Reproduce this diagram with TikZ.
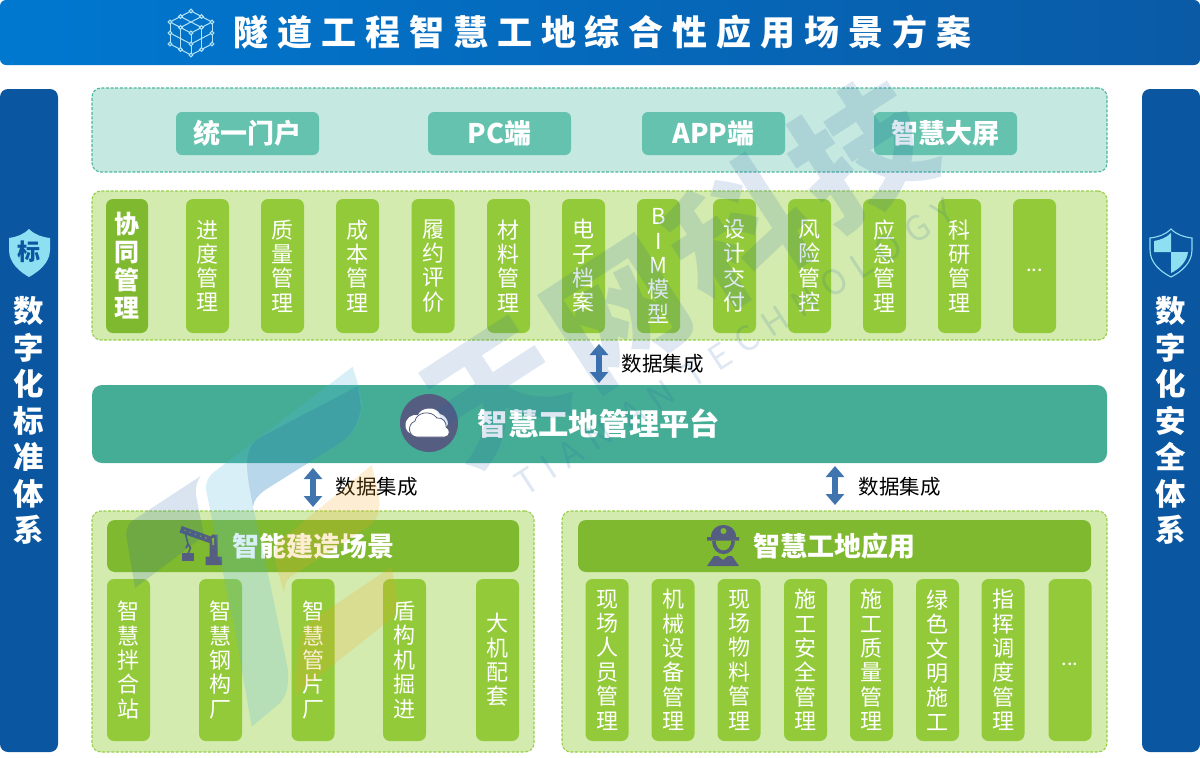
\documentclass[tikz,border=0pt]{standalone}
\usepackage{fontspec}
\setmainfont{Noto Sans CJK SC}
\usetikzlibrary{arrows.meta,calc}
\definecolor{titleL}{HTML}{0078D0}
\definecolor{titleR}{HTML}{0A5AA6}
\definecolor{navy}{HTML}{0A56A0}
\definecolor{portalbg}{HTML}{C5E9E0}
\definecolor{portalln}{HTML}{4DB6A0}
\definecolor{portalbtn}{HTML}{64C2AE}
\definecolor{greenbg}{HTML}{D3EBAE}
\definecolor{greenln}{HTML}{98CE4A}
\definecolor{greendk}{HTML}{7FB92F}
\definecolor{greenit}{HTML}{93CA39}
\definecolor{teal}{HTML}{45AD96}
\definecolor{slate}{HTML}{555E80}
\definecolor{arrowblue}{HTML}{3F74AE}
\definecolor{skyic}{HTML}{8FDFF3}
\definecolor{cubeic}{HTML}{B4E2F6}
\definecolor{wmcol}{HTML}{1F5FA8}
\definecolor{leafc}{HTML}{4FB8DE}
\definecolor{leafo}{HTML}{F5A623}
\tikzset{
  x=1pt,y=-1pt,
  box/.style={rectangle,rounded corners=#1,inner sep=0pt,outer sep=0pt},
  box/.default=6pt,
  band/.style={box=9pt,dashed,dash pattern=on 3pt off 1.6pt,line width=1.1pt},
  portalband/.style={band,draw=portalln,fill=portalbg},
  greenband/.style={band,draw=greenln,fill=greenbg},
  portalitem/.style={box=6pt,fill=portalbtn,text=white,font=\fontsize{27}{30}\selectfont\bfseries,minimum width=143pt,minimum height=43pt},
  itemtall/.style={box=7pt,fill=greenit,text=white,align=center,font=\fontsize{22}{24.3}\selectfont,minimum width=43pt,minimum height=134pt},
  itemlow/.style={box=7pt,fill=greenit,text=white,align=center,font=\fontsize{22}{24.4}\selectfont,minimum width=43pt,minimum height=162pt},
  sidebar/.style={box=8pt,fill=navy,minimum width=58pt,minimum height=663pt},
  sidetext/.style={text=white,align=center,font=\fontsize{30.5}{36.5}\selectfont\bfseries,inner sep=0pt},
  header/.style={box=8pt,fill=greendk,minimum height=52pt},
  headtext/.style={text=white,font=\fontsize{27}{32}\selectfont\bfseries,inner sep=0pt},
  datatext/.style={text=black,font=\fontsize{20.5}{24}\selectfont,inner sep=0pt},
  dotstext/.style={text=white,font=\fontsize{20}{22}\selectfont,inner sep=0pt},
  dataarrow/.style={draw=arrowblue,line width=6pt,{Triangle[width=18pt,length=11pt]}-{Triangle[width=18pt,length=11pt]}},
  wmark/.style={text=wmcol,text opacity=.15,inner sep=0pt},
  leafblue/.style={fill=wmcol,fill opacity=.17,draw=none},
  leafcyan/.style={fill=leafc,fill opacity=.22,draw=none},
  leaforange/.style={fill=leafo,fill opacity=.2,draw=none},
}
\begin{document}
\begin{tikzpicture}
\useasboundingbox (0,0) rectangle (1200,758);
% title
\node[box=6pt,left color=titleL,right color=titleR,minimum width=1200pt,minimum height=65pt,anchor=north west] (titlebar) at (0,0) {};
\node[text=white,font=\fontsize{35}{38}\selectfont\bfseries\addfontfeatures{LetterSpace=25.5},inner sep=0pt] (title) at (602.5,32) {隧道工程智慧工地综合性应用场景方案};
% cube icon
\begin{scope}[cubeic,line width=1pt]
  \coordinate (ct) at (191,11); \coordinate (cc) at (191,33);
  \coordinate (cl) at (170,22); \coordinate (cr) at (212,22);
  \coordinate (cbl) at (170,44); \coordinate (cbr) at (212,44); \coordinate (cb) at (191,55);
  \foreach \a/\b in {ct/cl,ct/cr,cl/cc,cr/cc,cl/cbl,cr/cbr,cc/cb,cbl/cb,cbr/cb}{\draw (\a) -- (\b);}
  \draw ($(ct)!.5!(cl)$) -- ($(cc)!.5!(cr)$) ($(ct)!.5!(cr)$) -- ($(cc)!.5!(cl)$);
  \draw ($(cl)!.5!(cbl)$) -- ($(cc)!.5!(cb)$) -- ($(cr)!.5!(cbr)$);
  \draw ($(cl)!.5!(cc)$) -- ($(cbl)!.5!(cb)$) ($(cr)!.5!(cc)$) -- ($(cbr)!.5!(cb)$);
  \foreach \p in {ct,cc,cl,cr,cbl,cbr,cb}{\draw[fill=titleL] (\p) circle (1.8);}
  \foreach \a/\b in {ct/cl,ct/cr,cl/cc,cr/cc,cl/cbl,cr/cbr,cc/cb,cbl/cb,cbr/cb}{\draw[fill=titleL] ($(\a)!.5!(\b)$) circle (1.8);}
\end{scope}
% side bars
\node[sidebar,anchor=north west] (leftbar) at (0,89) {};
\node[sidebar,anchor=north west] (rightbar) at (1142,89) {};
\node[sidetext] (lefttext) at (29,420.5) {数\\字\\化\\标\\准\\体\\系};
\node[sidetext] (righttext) at (1171,420.5) {数\\字\\化\\安\\全\\体\\系};
% left shield
\fill[skyic] (29,229) .. controls (23,235) and (16,237) .. (9,238) -- (9,250) .. controls (9,263) and (20,272) .. (29,277) .. controls (38,272) and (50,263) .. (50,250) -- (50,238) .. controls (42,237) and (35,235) .. (29,229) -- cycle;
\node[text=navy,font=\fontsize{23}{26}\selectfont\bfseries,inner sep=0pt] (stdmark) at (29,252) {标};
% right shield
\draw[skyic,line width=1.1pt] (1171,229) .. controls (1165,235) and (1158,237) .. (1150,238) -- (1150,250) .. controls (1150,263) and (1161,272) .. (1171,277) .. controls (1181,272) and (1192,263) .. (1192,250) -- (1192,238) .. controls (1184,237) and (1177,235) .. (1171,229) -- cycle;
\fill[skyic] (1171,233) .. controls (1166,238) and (1160,240) .. (1154,241) -- (1154,252) -- (1171,252) -- cycle;
\fill[skyic] (1171,252) -- (1188,252) .. controls (1187,262) and (1179,269) .. (1171,273) -- cycle;
% portal band
\node[portalband,anchor=north west,minimum width=1015pt,minimum height=84pt] (portal) at (92,88) {};
\node[portalitem] (p1) at (247.5,133.5) {统一门户};
\node[portalitem] (p2) at (499.5,133.5) {PC端};
\node[portalitem] (p3) at (713.5,133.5) {APP端};
\node[portalitem] (p4) at (945.5,133.5) {智慧大屏};
% management band
\node[greenband,anchor=north west,minimum width=1015pt,minimum height=149pt] (mgmt) at (92,191) {};
\node[itemtall,fill=greendk,font=\fontsize{25}{28}\selectfont\bfseries,minimum width=42pt] (m0) at (127,266) {协\\同\\管\\理};
\foreach \cx/\t [count=\i] in {207.5/进\\度\\管\\理,282.5/质\\量\\管\\理,357.5/成\\本\\管\\理,433/履\\约\\评\\价,508.5/材\\料\\管\\理,583.5/电\\子\\档\\案,658.5/B\\I\\M\\模\\型,734.5/设\\计\\交\\付,809.5/风\\险\\管\\控,884.5/应\\急\\管\\理,959.5/科\\研\\管\\理}
  {\node[itemtall] (m\i) at (\cx,266) {\t};}
\node[itemtall] (m12) at (1034.5,266) {};
\node[dotstext] (m12t) at (1034.5,270) {...};
% platform
\node[box=10pt,fill=teal,anchor=north west,minimum width=1015pt,minimum height=78pt] (platform) at (92,385) {};
\node[circle,fill=slate,minimum size=58pt,inner sep=0pt] (cloudic) at (429,423) {};
\fill[white] (405.5,426) .. controls (405,418) and (412,414) .. (418,415) .. controls (421,407) and (436,406) .. (440,414) .. controls (445,415) and (448,420) .. (448,424) -- (440,436) -- (414,434) .. controls (408,434) and (406,430) .. (405.5,426) -- cycle;
\draw[slate,fill=white,line width=.8pt] (417,437) .. controls (409,437) and (406,425) .. (415,421) .. controls (416,413) and (430,409) .. (437,418) .. controls (443,417) and (447,423) .. (446,427) .. controls (451,429) and (450,437) .. (445,437) -- cycle;
\node[text=white,font=\fontsize{30.3}{34}\selectfont\bfseries,inner sep=0pt] (ptitle) at (599,424) {智慧工地管理平台};
% data arrows
\coordinate (a1t) at (599,344); \coordinate (a1b) at (599,383);
\coordinate (a2t) at (313,468); \coordinate (a2b) at (313,507);
\coordinate (a3t) at (835,466); \coordinate (a3b) at (835,505);
\draw[dataarrow] (a1t) -- (a1b);
\draw[dataarrow] (a2t) -- (a2b);
\draw[dataarrow] (a3t) -- (a3b);
\node[datatext] (d1) at (662.5,364) {数据集成};
\node[datatext] (d2) at (376.5,487) {数据集成};
\node[datatext] (d3) at (899.5,487) {数据集成};
% lower left
\node[greenband,anchor=north west,minimum width=442pt,minimum height=241pt] (lowl) at (92,511) {};
\node[header,anchor=north west,minimum width=412pt] (headl) at (107,520) {};
\node[headtext] (headlt) at (313,546) {智能建造场景};
\foreach \cx/\t [count=\i] in {128.5/智\\慧\\拌\\合\\站,220.5/智\\慧\\钢\\构\\厂,313/智\\慧\\管\\片\\厂,404.5/盾\\构\\机\\掘\\进,497.5/大\\机\\配\\套}
  {\node[itemlow] (l\i) at (\cx,660) {\t};}
% crane icon
\fill[slate] (181.7,526) -- (179.5,532.5) -- (209.5,543) -- (209.5,556.7) -- (205.5,556.7) -- (205.5,565) -- (222,565) -- (222,556.7) -- (217.5,556.7) -- (217.5,534.5) -- (212,534.5) -- (211,536.5) -- cycle;
\fill[greendk] (212,538) -- (214,538) -- (214,545) -- (212.5,545) -- cycle;
\foreach \k in {0,1,2,3,4}{\fill[greendk] (185+5.2*\k,530.4+1.9*\k) circle (.8);}
\draw[slate,line width=1.6pt] (185,532) -- (188,544) -- (186,548) (188,544) -- (190.5,548) -- (188.3,553);
\fill[slate] (182.3,553) rectangle (194.3,561);
% lower right
\node[greenband,anchor=north west,minimum width=545pt,minimum height=241pt] (lowr) at (562,511) {};
\node[header,anchor=north west,minimum width=513pt] (headr) at (578,520) {};
\node[headtext] (headrt) at (834,546) {智慧工地应用};
\foreach \cx/\t [count=\i] in {607/现\\场\\人\\员\\管\\理,673/机\\械\\设\\备\\管\\理,739/现\\场\\物\\料\\管\\理,805.5/施\\工\\安\\全\\管\\理,871.5/施\\工\\质\\量\\管\\理,937.5/绿\\色\\文\\明\\施\\工,1003/指\\挥\\调\\度\\管\\理}
  {\node[itemlow] (r\i) at (\cx,660) {\t};}
\node[itemlow] (r8) at (1070,660) {};
\node[dotstext] (r8t) at (1070,664) {...};
% helmet icon
\fill[slate] (711,537) .. controls (711,521) and (736,521) .. (736,537) -- (739,537) -- (739,540.5) -- (707,540.5) -- (707,537) -- cycle;
\fill[greendk] (723.5,531) circle (3);
\draw[slate,line width=3.6pt] (714,541) .. controls (714,556) and (733,556) .. (733,541);
\fill[slate] (707,566) -- (739,566) -- (732,556) -- (728,556) -- (723,560) -- (718,556) -- (714,556) -- cycle;
% watermark logo
\fill[leafcyan] (352.7,366.7) .. controls (358,385) and (364,400) .. (361.7,410) .. controls (358,428) and (350,436) .. (340,443) -- (265,490) .. controls (258,495) and (254,500) .. (253,506.7) -- (270,583) -- (288,670) .. controls (289,685) and (287,695) .. (280,703) -- (251.7,726.7) -- (236.7,640) -- (206.7,493) .. controls (204,482) and (210,474) .. (216.7,470) -- cycle;
\fill[leafblue] (361,408) .. controls (357,428) and (350,436) .. (340,443) -- (265,490) .. controls (258,495) and (254,500) .. (253,506.7) .. controls (250,490) and (245,470) .. (248,455) .. controls (250,445) and (255,440) .. (263,436) -- (358,386) -- cycle;
\fill[leafblue] (200.7,476) -- (132,521) .. controls (127,525) and (125,532) .. (127,540) -- (135,588) -- (188,548) .. controls (195,543) and (198,540) .. (204,536) -- (196,495) .. controls (195,486) and (198,480) .. (200.7,476) -- cycle;
\fill[leaforange] (371.7,465) .. controls (375,480) and (381,497) .. (379,510) .. controls (377,518) and (374,523) .. (368,527) -- (290,577) .. controls (286,580) and (285,585) .. (284.3,593.3) -- (276.7,567) .. controls (272,550) and (276,538) .. (290,533) -- cycle;
\fill[leaforange] (391.7,566.7) .. controls (393,580) and (399,595) .. (396,610) .. controls (394,617) and (390,620) .. (386,623) -- (310,683) .. controls (302,688) and (297,694) .. (295,696.7) .. controls (296,680) and (296,660) .. (300,640) .. controls (301,630) and (308,622) .. (320,615) -- cycle;
% watermark text
\node[wmark,rotate=33,font=\fontsize{135}{140}\selectfont\bfseries\addfontfeatures{LetterSpace=8}] (wm1) at (678,272) {天网科技};
\node[wmark,rotate=33,font=\fontsize{34}{38}\selectfont\addfontfeatures{LetterSpace=31}] (wm2) at (735,347) {TIAN AN TECHNOLOGY};
\end{tikzpicture}
\end{document}
